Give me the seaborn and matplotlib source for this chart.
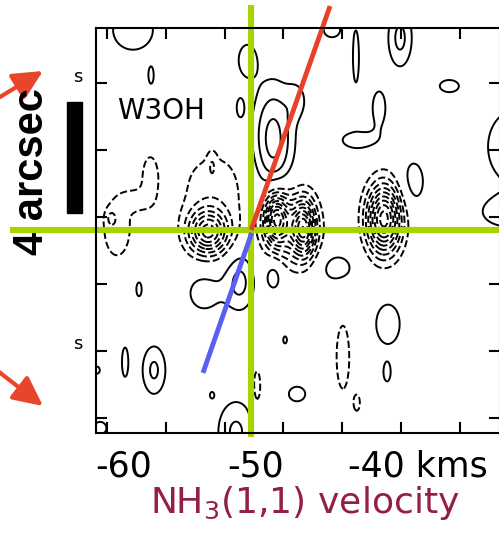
import numpy as np
import pandas as pd
import matplotlib
matplotlib.use("Agg")
import matplotlib.pyplot as plt
from matplotlib.patches import Rectangle
from matplotlib.transforms import blended_transform_factory
import seaborn as sns

# NH3(1,1) position-velocity map of W3OH, described as Gaussian clumps
# velocity (km/s), offset (arcsec), widths, peak (contour units)

# emission clumps (solid contours)
emis_vel = [-59.22, -57.80, -50.27, -50.82, -48.24, -46.35, -43.61, -41.73, -38.27, -39.92,
            -41.57, -34.43, -29.25, -29.80, -37.25, -43.22, -39.22, -39.29, -46.35, -47.29,
            -51.14, -58.75, -53.65, -57.57, -59.84, -62.04, -53.02, -61.80, -50.82, -48.16]
emis_pos = [7.21, 5.55, 6.13, 4.40, 3.24, 4.68, 7.21, 6.23, 6.92, 4.40,
            3.24, 5.19, 3.00, 0.61, 1.73, -1.37, -3.39, -5.15, -5.91, -3.96,
            -7.28, -2.13, -2.27, -5.05, -4.76, -5.05, -5.95, -7.14, -1.87, -1.62]
emis_dvel = [1.73, 0.20, 0.71, 0.27, 1.12, 0.63, 0.71, 0.26, 0.71, 0.55,
             1.33, 0.78, 2.35, 1.73, 0.86, 1.18, 1.02, 0.27, 0.71, 0.16,
             1.10, 0.24, 1.18, 0.71, 0.27, 0.24, 0.16, 0.55, 0.86, 0.55]
emis_dpos = [0.79, 0.29, 0.58, 0.32, 1.38, 0.50, 0.29, 1.01, 0.79, 0.65,
             0.32, 0.23, 1.45, 0.43, 0.76, 0.47, 0.79, 0.32, 0.29, 0.14,
             0.86, 0.29, 0.61, 0.68, 0.58, 0.14, 0.11, 0.25, 0.76, 0.47]
emis_peak = [1.5, 1.5, 1.5, 1.5, 3.5, 1.2, 1.5, 1.5, 2.3, 1.5,
             1.5, 1.5, 1.5, 1.5, 1.5, 1.5, 1.5, 1.5, 1.5, 1.5,
             2.2, 1.5, 1.5, 2.2, 1.5, 1.5, 1.5, 1.5, 2.3, 1.8]

# absorption clumps (dashed contours)
absn_vel = [-46.90, -48.00, -45.80, -52.86, -53.33, -53.02, -39.53, -60.47, -57.88, -58.98,
            -60.94, -42.75, -41.65, -49.49]
absn_pos = [0.07, 0.43, 0.07, 1.51, -0.07, 2.34, 0.40, 0.07, 1.87, 1.08,
            0.43, -4.58, -6.23, -5.69]
absn_dvel = [1.41, 0.63, 0.63, 2.20, 1.10, 0.24, 0.94, 1.02, 0.55, 0.78,
             0.27, 0.55, 0.24, 0.31]
absn_dpos = [0.90, 0.60, 0.68, 1.15, 0.56, 0.32, 0.85, 1.01, 0.72, 0.29,
             0.20, 1.26, 0.29, 0.68]
absn_peak = [-4.0, -7.0, -7.0, -1.5, -7.0, -1.0, -9.5, -1.6, -1.6, -1.3,
             -1.1, -1.5, -1.5, -1.5]

neg_levels = [-11, -10, -9, -8, -7, -6, -5, -4, -3, -2, -1]
pos_levels = [1, 2, 3, 4, 5]

vel_limits = (-62.12, -30.43)
pos_limits = (-7.315, 7.279)
frame_vel_ticks = [-61.25, -56.64, -52.03, -47.42, -42.80, -38.19, -33.58]
frame_pos_ticks = [5.30, 2.88, 0.47, -1.95, -4.36, -6.77]

label_vel = [-59.96, -49.57, -42.35]
label_text = ["-60", "-50", "-40 kms"]
label_align = ["center", "center", "left"]

# guide lines
cross_vel = -50.0
cross_pos = 0.0
vline_pos = [8.11, -7.46]
hline_vel = [-68.86, -30.43]
red_vel = [-49.95, -43.76]
red_pos = [0.0, 8.07]
blue_vel = [-49.9, -53.73]
blue_pos = [-0.1, -5.15]
scale_bar_pos = [0.61, 4.61]  # 4 arcsec

sns.set_theme(style="white")
plt.rcParams["font.family"] = ["DejaVu Sans"]
plt.rcParams["contour.negative_linestyle"] = "dashed"
plt.rcParams["mathtext.fontset"] = "dejavusans"

clumps = pd.concat([
    pd.DataFrame({"vel": emis_vel, "pos": emis_pos, "dvel": emis_dvel, "dpos": emis_dpos, "peak": emis_peak}),
    pd.DataFrame({"vel": absn_vel, "pos": absn_pos, "dvel": absn_dvel, "dpos": absn_dpos, "peak": absn_peak}),
], ignore_index=True)

vel_grid = np.linspace(-62.6, -29.8, 700)
pos_grid = np.linspace(-7.7, 7.7, 520)
V, P = np.meshgrid(vel_grid, pos_grid)
intensity = np.zeros_like(V)
for c in clumps.itertuples():
    intensity += c.peak * np.exp(-0.5 * (((V - c.vel) / c.dvel) ** 2 + ((P - c.pos) / c.dpos) ** 2))

fig = plt.figure(figsize=(4.99, 5.33), dpi=100)
ax = fig.add_axes([0.1924, 0.1876, 0.8096, 0.7598])
ax.set_facecolor("white")
ax.contour(V, P, intensity, levels=neg_levels + pos_levels, colors="black", linewidths=1.4)

ax.set_xlim(*vel_limits)
ax.set_ylim(*pos_limits)
ax.set_xticks(frame_vel_ticks)
ax.set_yticks(frame_pos_ticks)
ax.tick_params(direction="in", length=8, width=1.5, color="black",
               top=True, right=True, bottom=True, left=True,
               labelbottom=False, labelleft=False)
for sp in ax.spines.values():
    sp.set_visible(True)
    sp.set_color("black")
    sp.set_linewidth(1.5)
ax.grid(False)

# guide lines
green = "#a5d400"
sns.lineplot(x=[cross_vel, cross_vel], y=vline_pos, ax=ax, color=green, linewidth=4.4,
             sort=False, estimator=None)
ax.lines[-1].set_clip_on(False)
sns.lineplot(x=hline_vel, y=[cross_pos, cross_pos], ax=ax, color=green, linewidth=4.4,
             sort=False, estimator=None)
ax.lines[-1].set_clip_on(False)
sns.lineplot(x=red_vel, y=red_pos, ax=ax, color="#e8412a", linewidth=3.5,
             sort=False, estimator=None)
ax.lines[-1].set_clip_on(False)
sns.lineplot(x=blue_vel, y=blue_pos, ax=ax, color="#5b5ef5", linewidth=3.5,
             sort=False, estimator=None)
ax.lines[-1].set_clip_on(False)
for ln in ax.lines:
    ln.set_solid_capstyle("butt")

# velocity labels below the frame
lab_tr = blended_transform_factory(ax.transData, ax.transAxes)
for v, t, ha in zip(label_vel, label_text, label_align):
    ax.text(v, -0.1086, t, transform=lab_tr, ha=ha, va="baseline", fontsize=25, color="black",
            clip_on=False)

fig.text(305 / 499, 20 / 533, "NH$_3$(1,1) velocity", ha="center", va="baseline",
         fontsize=26, color="#941f43")

ax.text(0.052, 0.775, "W3OH", transform=ax.transAxes, ha="left", va="baseline",
        fontsize=20, color="black")

for ypx in (77, 344):
    fig.text(78 / 499, 1 - ypx / 533, "s", ha="center", va="center", fontsize=13, color="black")

# 4 arcsec scale bar
bar_tr = blended_transform_factory(ax.transAxes, ax.transData)
ax.add_patch(Rectangle((-0.0718, scale_bar_pos[0]), 0.0371, scale_bar_pos[1] - scale_bar_pos[0],
                       transform=bar_tr, color="black", clip_on=False))
fig.text(43 / 499, 1 - 172 / 533, "4 arcsec", rotation=90, rotation_mode="anchor",
         ha="center", va="baseline", fontsize=30, fontweight="bold",
         family=["Liberation Sans", "DejaVu Sans"], color="black")

# red arrows on the left
arrow_kw = dict(arrowstyle="-|>,head_length=0.45,head_width=0.22", color="#e8452b",
                lw=3.0, mutation_scale=40, shrinkA=0, shrinkB=0)
ax.annotate("", xy=(43, 533 - 71), xytext=(-10, 533 - 103),
            xycoords="figure pixels", textcoords="figure pixels", arrowprops=arrow_kw)
ax.annotate("", xy=(43, 533 - 406), xytext=(-10, 533 - 365),
            xycoords="figure pixels", textcoords="figure pixels", arrowprops=arrow_kw)

fig.savefig("out.png", dpi=100, facecolor="white")
